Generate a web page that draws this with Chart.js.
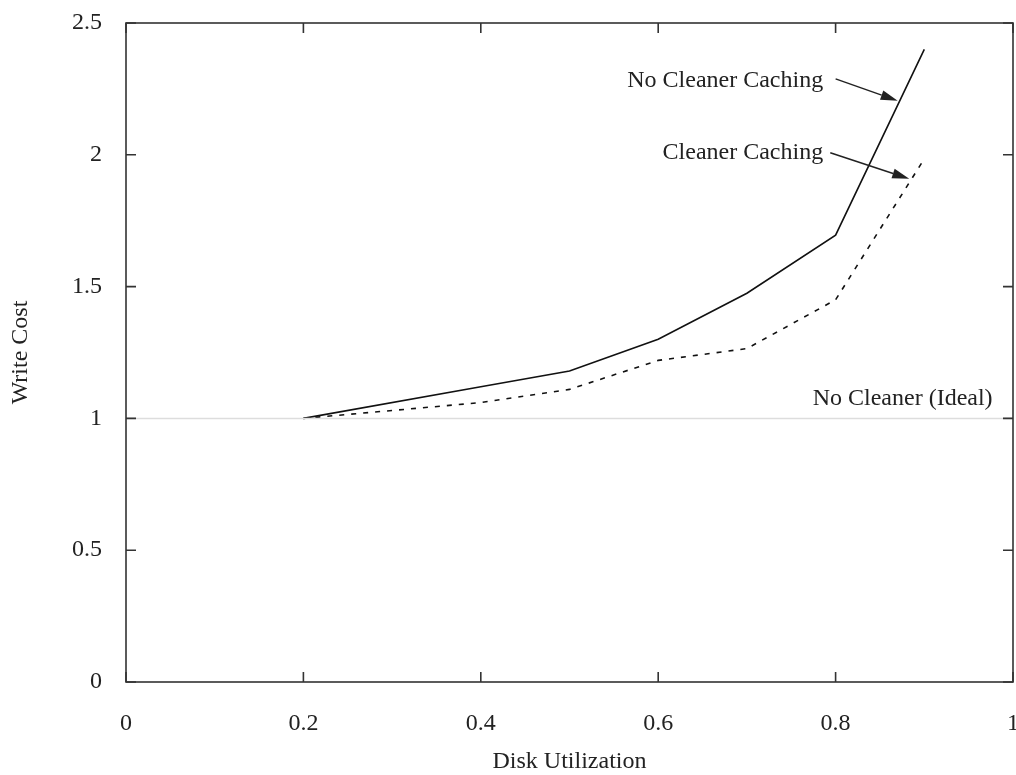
<!DOCTYPE html>
<html>
<head>
<meta charset="utf-8">
<script src="https://cdn.jsdelivr.net/npm/chart.js@4/dist/chart.umd.min.js"></script>
<style>
  html, body { margin: 0; padding: 0; background: #fff; }
  #wrap { width: 1016px; height: 775px; }
</style>
</head>
<body>
<div id="wrap"><canvas id="writeCostChart"></canvas></div>
<script>
// values
const utilization = [0.2, 0.4, 0.5, 0.6, 0.7, 0.8, 0.9];
const noCleanerCaching = [1.0, 1.12, 1.18, 1.30, 1.475, 1.695, 2.40];
const cleanerCaching = [1.0, 1.06, 1.11, 1.22, 1.265, 1.45, 1.985];
const idealX = [0, 1];
const idealY = [1, 1];

const xTickLabels = ['0', '0.2', '0.4', '0.6', '0.8', '1'];
const yTickLabels = ['0', '0.5', '1', '1.5', '2', '2.5'];

// annotation anchors, in data units
const notes = [
  { text: 'No Cleaner Caching', x: 0.786, y: 2.28, arrow: [0.800, 2.288, 0.870, 2.205] },
  { text: 'Cleaner Caching', x: 0.786, y: 2.008, arrow: [0.794, 2.008, 0.883, 1.909] },
  { text: 'No Cleaner (Ideal)', x: 0.977, y: 1.076 }
];

const FONT = '"Liberation Serif", "Times New Roman", serif';
const INK = '#222';

const toPoints = (xs, ys) => xs.map((x, i) => ({ x: x, y: ys[i] }));

// frame with inward ticks on all four sides, plus the text notes
const framePlugin = {
  id: 'frame',
  afterDraw(chart) {
    const { ctx, chartArea: a, scales } = chart;
    const xs = scales.x, ys = scales.y;
    const len = 10;
    ctx.save();
    ctx.strokeStyle = '#333';
    ctx.lineWidth = 1.6;
    ctx.strokeRect(a.left, a.top, a.right - a.left, a.bottom - a.top);
    ctx.beginPath();
    xs.ticks.forEach(t => {
      const px = xs.getPixelForValue(t.value);
      ctx.moveTo(px, a.bottom); ctx.lineTo(px, a.bottom - len);
      ctx.moveTo(px, a.top); ctx.lineTo(px, a.top + len);
    });
    ys.ticks.forEach(t => {
      const py = ys.getPixelForValue(t.value);
      ctx.moveTo(a.left, py); ctx.lineTo(a.left + len, py);
      ctx.moveTo(a.right, py); ctx.lineTo(a.right - len, py);
    });
    ctx.stroke();

    ctx.fillStyle = INK;
    ctx.strokeStyle = INK;
    ctx.font = '24px ' + FONT;
    ctx.textAlign = 'right';
    ctx.textBaseline = 'middle';
    notes.forEach(n => {
      ctx.fillText(n.text, xs.getPixelForValue(n.x), ys.getPixelForValue(n.y));
      if (!n.arrow) return;
      const x0 = xs.getPixelForValue(n.arrow[0]), y0 = ys.getPixelForValue(n.arrow[1]);
      const x1 = xs.getPixelForValue(n.arrow[2]), y1 = ys.getPixelForValue(n.arrow[3]);
      const ang = Math.atan2(y1 - y0, x1 - x0);
      const hl = 17, hw = 5;
      const bx = x1 - hl * Math.cos(ang), by = y1 - hl * Math.sin(ang);
      ctx.lineWidth = 1.5;
      ctx.beginPath();
      ctx.moveTo(x0, y0);
      ctx.lineTo(bx, by);
      ctx.stroke();
      ctx.beginPath();
      ctx.moveTo(x1, y1);
      ctx.lineTo(bx + hw * Math.sin(ang), by - hw * Math.cos(ang));
      ctx.lineTo(bx - hw * Math.sin(ang), by + hw * Math.cos(ang));
      ctx.closePath();
      ctx.fill();
    });
    ctx.restore();
  }
};

const ctx = document.getElementById('writeCostChart').getContext('2d');
new Chart(ctx, {
  type: 'line',
  data: {
    datasets: [
      {
        label: 'No Cleaner (Ideal)',
        data: toPoints(idealX, idealY),
        borderColor: '#dddddd',
        borderWidth: 1.5,
        pointRadius: 0
      },
      {
        label: 'No Cleaner Caching',
        data: toPoints(utilization, noCleanerCaching),
        borderColor: '#111',
        borderWidth: 1.6,
        pointRadius: 0,
        tension: 0
      },
      {
        label: 'Cleaner Caching',
        data: toPoints(utilization, cleanerCaching),
        borderColor: '#111',
        borderWidth: 1.6,
        borderDash: [5, 7],
        pointRadius: 0,
        tension: 0
      }
    ]
  },
  options: {
    responsive: true,
    maintainAspectRatio: false,
    animation: false,
    events: [],
    layout: { padding: { top: 23, right: 3, left: 0, bottom: 0 } },
    plugins: {
      legend: { display: false },
      tooltip: { enabled: false }
    },
    scales: {
      x: {
        type: 'linear',
        min: 0,
        max: 1,
        border: { display: false },
        grid: { display: false, drawTicks: false },
        ticks: {
          stepSize: 0.2,
          padding: 27,
          maxRotation: 0,
          color: INK,
          font: { family: FONT, size: 24 },
          callback: (v, i) => xTickLabels[i]
        },
        title: {
          display: true,
          text: 'Disk Utilization',
          color: INK,
          font: { family: FONT, size: 24, lineHeight: 1.1 },
          padding: 0
        },
        afterFit(scale) {
          scale.height = 93;
          scale.paddingLeft = 0;
          scale.paddingRight = 0;
        }
      },
      y: {
        min: 0,
        max: 2.5,
        border: { display: false },
        grid: { display: false, drawTicks: false },
        ticks: {
          stepSize: 0.5,
          padding: 24,
          color: INK,
          font: { family: FONT, size: 24 },
          callback: (v, i) => yTickLabels[i]
        },
        title: {
          display: true,
          text: 'Write Cost',
          color: INK,
          font: { family: FONT, size: 24, lineHeight: 1.1 },
          padding: { top: 8, bottom: 0 }
        },
        afterFit(scale) {
          scale.width = 126;
          scale.paddingTop = 0;
          scale.paddingBottom = 0;
        }
      }
    }
  },
  plugins: [framePlugin]
});
</script>
</body>
</html>
